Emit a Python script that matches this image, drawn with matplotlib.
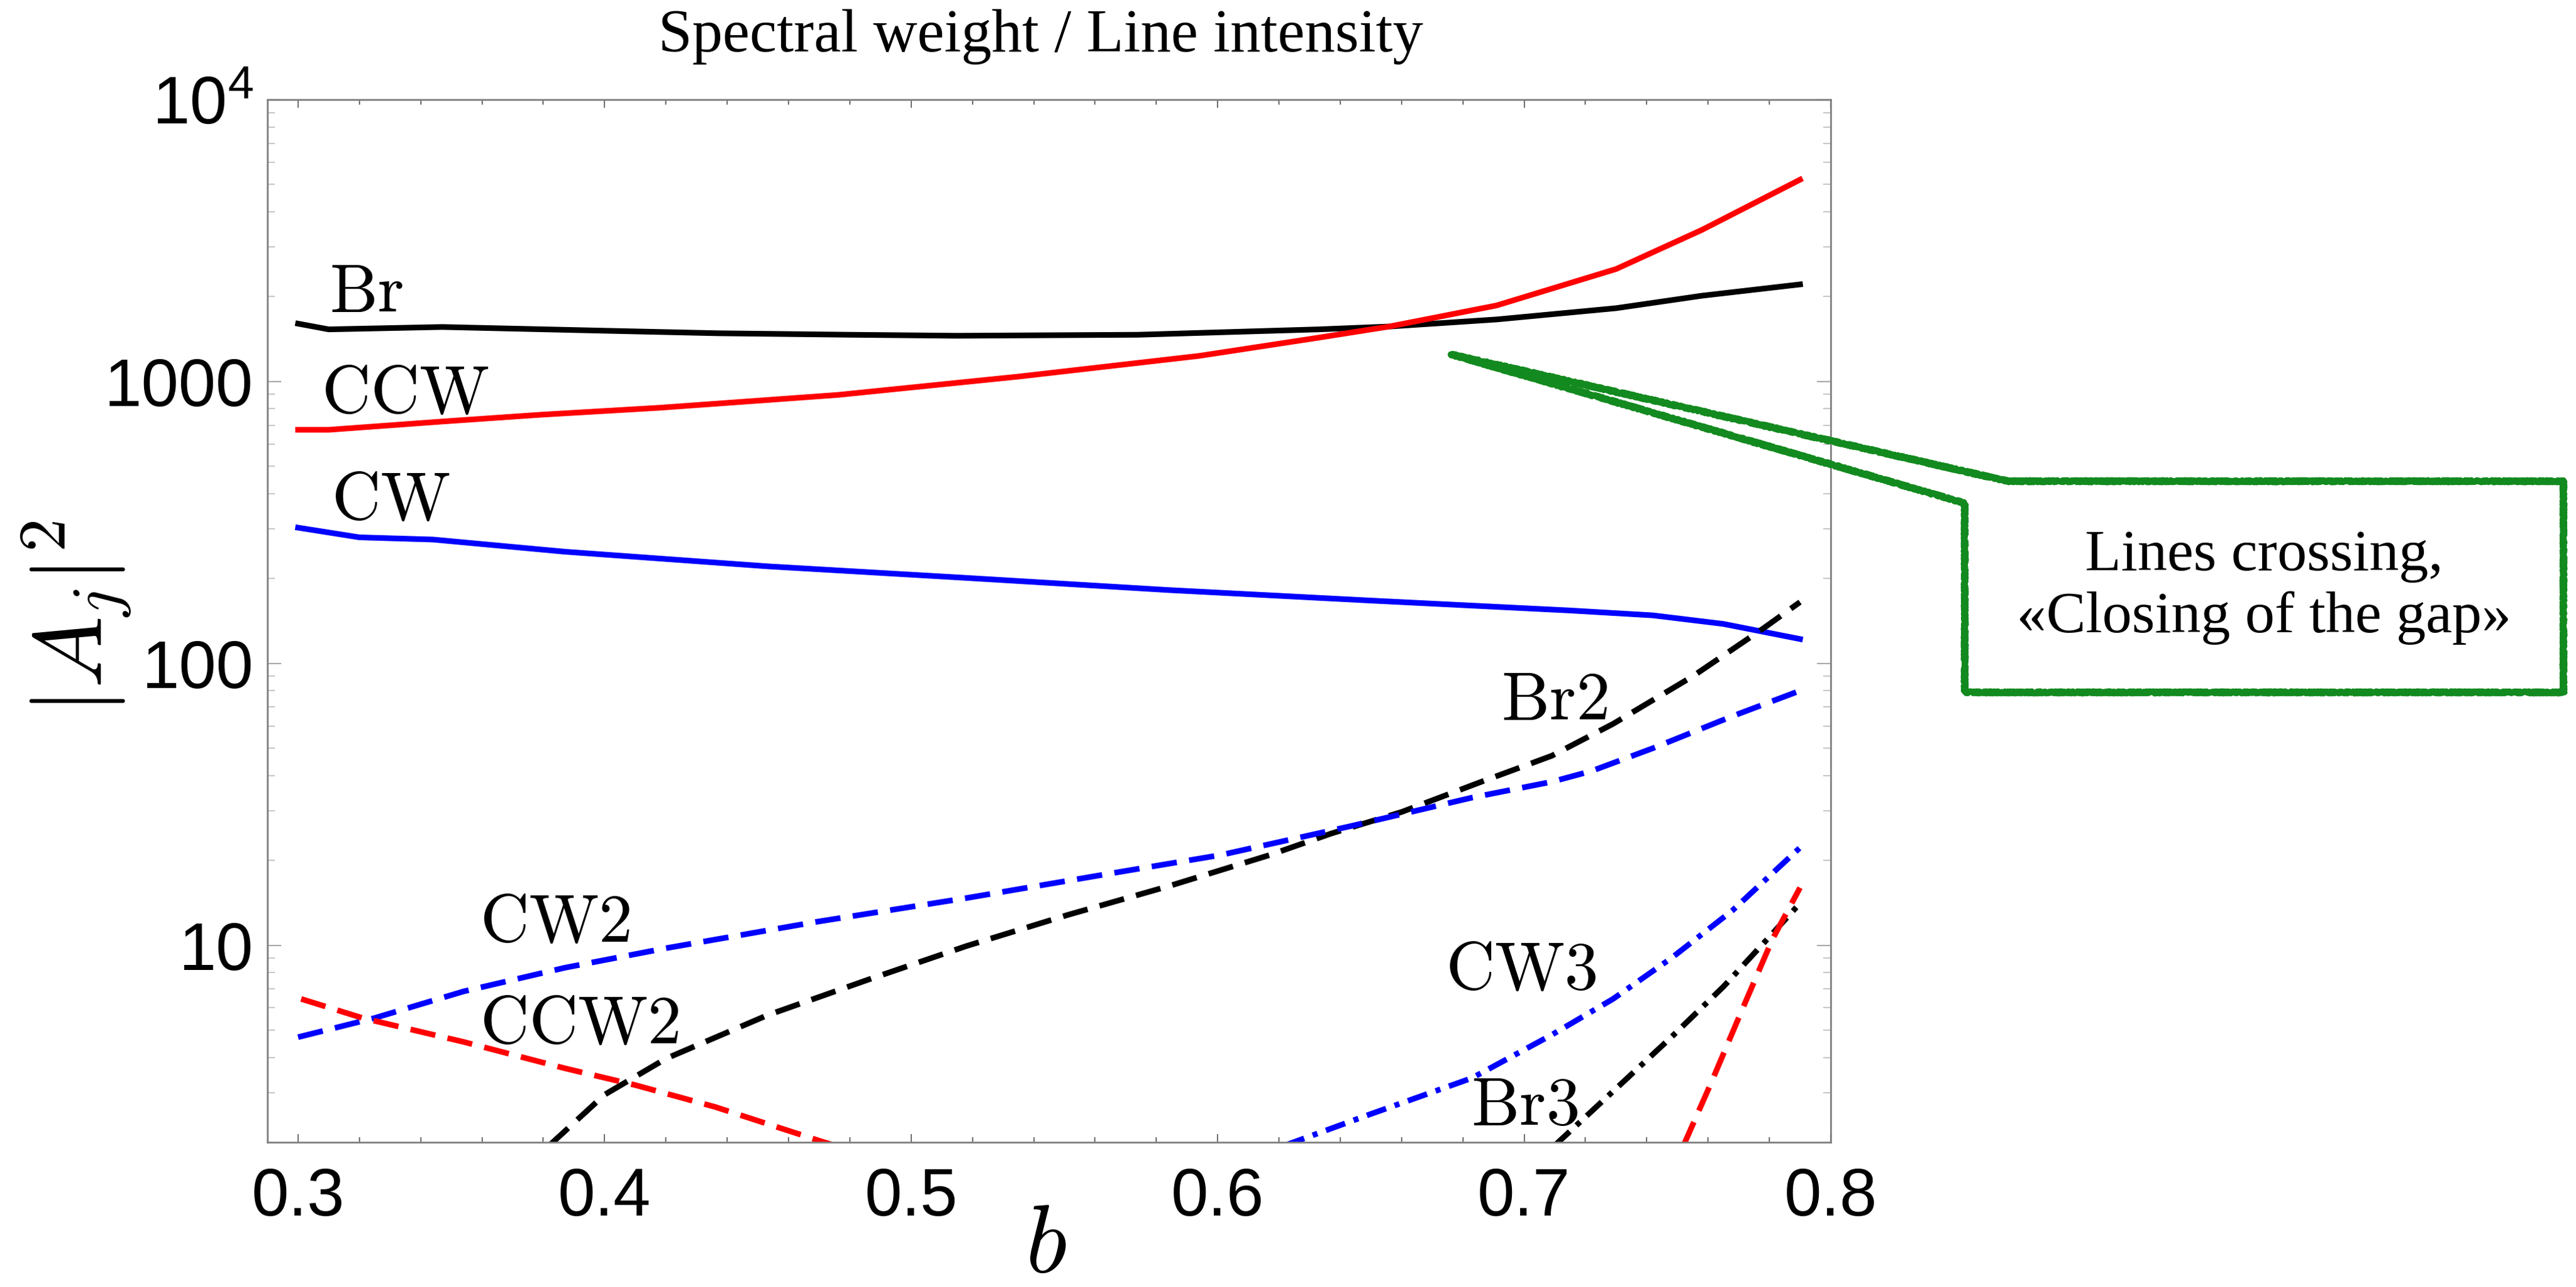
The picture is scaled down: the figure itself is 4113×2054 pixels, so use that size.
import numpy as np
import matplotlib
matplotlib.use('Agg')
import matplotlib.pyplot as plt
from matplotlib.patches import Polygon
from matplotlib.ticker import FixedLocator, LogLocator, FuncFormatter, MultipleLocator, NullFormatter

# values (b vs |A_j|^2)
b_br = [0.30, 0.31, 0.347, 0.40, 0.437, 0.48, 0.515, 0.574, 0.633, 0.656, 0.691, 0.730, 0.758, 0.79]
a_br = [1604, 1531, 1561, 1514, 1483, 1465, 1453, 1465, 1531, 1567, 1660, 1820, 2015, 2210]

b_ccw = [0.30, 0.31, 0.347, 0.379, 0.418, 0.476, 0.535, 0.594, 0.633, 0.656, 0.691, 0.730, 0.758, 0.79]
a_ccw = [674, 674, 721, 762, 807, 896, 1041, 1233, 1431, 1567, 1861, 2506, 3451, 5200]

b_cw = [0.30, 0.32, 0.344, 0.387, 0.453, 0.518, 0.584, 0.650, 0.715, 0.742, 0.765, 0.79]
a_cw = [303, 280, 275, 249, 221, 201, 182, 167, 154, 148, 138, 122]

b_br2 = [0.382, 0.40, 0.42, 0.453, 0.486, 0.518, 0.551, 0.584, 0.617, 0.637, 0.660, 0.686,
         0.709, 0.729, 0.755, 0.778, 0.79]
a_br2 = [1.95, 2.95, 3.96, 5.64, 7.55, 9.93, 12.8, 16.2, 20.9, 24.9, 29.7, 38, 47, 61, 90, 133, 165]

b_cw2 = [0.30, 0.325, 0.354, 0.387, 0.420, 0.469, 0.518, 0.568, 0.601, 0.643, 0.683, 0.709,
         0.722, 0.742, 0.768, 0.79]
a_cw2 = [4.72, 5.52, 6.86, 8.32, 9.76, 12.1, 14.7, 18.2, 20.9, 26.4, 33.4, 38, 41.5, 50, 65, 80]

b_ccw2 = [0.301, 0.321, 0.354, 0.387, 0.410, 0.436, 0.471, 0.475]
a_ccw2 = [6.45, 5.52, 4.54, 3.66, 3.19, 2.67, 2.01, 1.95]

b_cw3 = [0.622, 0.650, 0.683, 0.709, 0.729, 0.748, 0.768, 0.79]
a_cw3 = [1.95, 2.52, 3.38, 4.81, 6.45, 9.0, 13.3, 22.2]

b_br3 = [0.710, 0.732, 0.748, 0.765, 0.781, 0.79]
a_br3 = [1.95, 3.25, 4.72, 7.13, 11.0, 14.1]

b_ccw3 = [0.752, 0.761, 0.771, 0.781, 0.79]
a_ccw3 = [1.95, 3.25, 5.87, 10.5, 16.0]

y_ticks = [10, 100, 1000, 10000]
y_tick_labels = ['10', '100', '1000', r'$\mathregular{10^4}$']

crossing_point = (0.676, 1250)

plt.rcParams['mathtext.fontset'] = 'cm'

W, H = 4113, 2054
fig = plt.figure(figsize=(W / 100, H / 100), dpi=100)
ax = fig.add_axes([427 / W, 1 - 1823 / H, (2923 - 427) / W, (1823 - 159) / H])

lw = 6.5
dash = (0, (4.5, 2.2))
dashdot = (0, (3.6, 1.6, 0.9, 1.6))

ax.plot(b_br, a_br, color='black', lw=lw)
ax.plot(b_ccw, a_ccw, color='red', lw=lw)
ax.plot(b_cw, a_cw, color='blue', lw=lw)
ax.plot(b_br2, a_br2, color='black', lw=lw, ls=dash)
ax.plot(b_cw2, a_cw2, color='blue', lw=lw, ls=dash)
ax.plot(b_ccw2, a_ccw2, color='red', lw=lw, ls=dash)
ax.plot(b_cw3, a_cw3, color='blue', lw=lw, ls=dashdot)
ax.plot(b_br3, a_br3, color='black', lw=lw, ls=dashdot)
ax.plot(b_ccw3, a_ccw3, color='red', lw=lw, ls=dash)

ax.set_xlim(0.29, 0.80)
ax.set_yscale('log')
ax.set_ylim(2, 1e4)

# curve labels
curve_labels = [('Br', 0.3102, 1774), ('CCW', 0.3076, 774), ('CW', 0.3108, 324),
                ('Br2', 0.6925, 63.3), ('CW2', 0.3593, 10.3), ('CCW2', 0.3593, 4.5),
                ('CW3', 0.6743, 6.99), ('Br3', 0.6827, 2.31)]
for txt, x, y in curve_labels:
    ax.text(x, y, r'$\mathrm{%s}$' % txt, fontsize=78, ha='left', va='baseline')

# ticks
ax.xaxis.set_major_locator(MultipleLocator(0.1))
ax.xaxis.set_minor_locator(MultipleLocator(0.02))
ax.yaxis.set_major_locator(FixedLocator(y_ticks))
ax.yaxis.set_minor_locator(LogLocator(base=10, subs=np.arange(2, 10)))
ax.yaxis.set_minor_formatter(NullFormatter())
ax.xaxis.set_major_formatter(FuncFormatter(lambda v, p: '%.1f' % v))
ax.yaxis.set_major_formatter(FuncFormatter(
    lambda v, p: y_tick_labels[y_ticks.index(int(round(v)))] if int(round(v)) in y_ticks else ''))

ax.tick_params(which='both', direction='in', top=True, right=True, width=1.5)
ax.tick_params(axis='x', which='major', length=9.5, color='#707070', pad=28)
ax.tick_params(axis='x', which='minor', length=5.8, color='#707070')
ax.tick_params(axis='y', which='major', length=16, color='#a8a8a8', pad=16)
ax.tick_params(axis='y', which='minor', length=8.6, color='#c8c8c8')
for lab in ax.get_xticklabels() + ax.get_yticklabels():
    lab.set_fontfamily('Liberation Sans')
    lab.set_fontsize(77)

for sp in ax.spines.values():
    sp.set_color('#808080')
    sp.set_linewidth(2)

# axis labels and title
fig.text(1662 / W, 1 - 82 / H, 'Spectral weight / Line intensity', fontsize=70,
         family='Liberation Serif', ha='center', va='baseline')
fig.text(122 / W, 1 - 985 / H, r'$|A_j|^2$', fontsize=110, rotation=90,
         ha='center', va='center')
fig.text(1670 / W, 1 - 2030 / H, r'$b$', fontsize=110, ha='center', va='baseline')

# callout box pointing at the crossing
tip = fig.transFigure.inverted().transform(ax.transData.transform(crossing_point))
box_px = [(3206, 768), (4093, 768), (4093, 1105), (3137, 1105), (3137, 803)]
verts = [tuple(tip)] + [(x / W, 1 - y / H) for x, y in box_px]
callout = Polygon(verts, closed=True, fill=False, edgecolor='#138a1f', lw=6.5,
                  transform=fig.transFigure, clip_on=False, joinstyle='round')
callout.set_sketch_params(scale=2.0, length=3, randomness=2)
fig.add_artist(callout)
fig.text(3615 / W, 1 - 937 / H, 'Lines crossing,\n«Closing of the gap»', fontsize=68,
         family='Liberation Serif', ha='center', va='center', linespacing=1.2)

fig.savefig('out.png', dpi=100, facecolor='white')
